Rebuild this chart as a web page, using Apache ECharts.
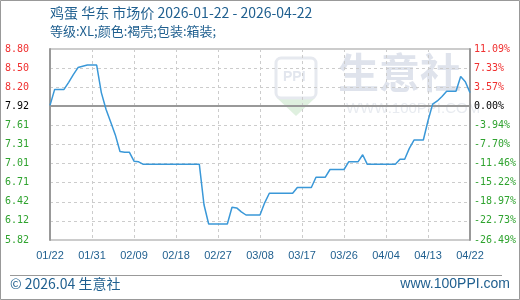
<!DOCTYPE html>
<html><head><meta charset="utf-8">
<script src="https://cdn.jsdelivr.net/npm/echarts@6/dist/echarts.min.js"></script>
<style>html,body{margin:0;padding:0;background:#fff}#c{width:520px;height:300px}</style>
</head><body><div id="c"></div>
<script>
var startDate = '2026-01-22';
var dayCount = 91;
var prices = [
 7.92, 8.17, 8.17, 8.17, 8.28, 8.40, 8.51, 8.53, 8.55, 8.55,
 8.55, 8.12, 7.86, 7.66, 7.46, 7.20, 7.19, 7.19, 7.05, 7.04,
 7.00, 7.00, 7.00, 7.00, 7.00, 7.00, 7.00, 7.00, 7.00, 7.00,
 7.00, 7.00, 7.00, 6.37, 6.07, 6.07, 6.07, 6.07, 6.07, 6.33,
 6.32, 6.26, 6.21, 6.21, 6.21, 6.21, 6.40, 6.55, 6.55, 6.55,
 6.55, 6.55, 6.55, 6.64, 6.64, 6.64, 6.64, 6.80, 6.80, 6.80,
 6.92, 6.92, 6.92, 6.92, 7.04, 7.04, 7.04, 7.15, 7.00, 7.00,
 7.00, 7.00, 7.00, 7.00, 7.00, 7.08, 7.08, 7.25, 7.38, 7.38,
 7.38, 7.68, 7.94, 7.99, 8.06, 8.14, 8.14, 8.14, 8.37, 8.29,
 8.12
];
var basePrice = 7.92;
var leftLabels = ['5.82','6.12','6.42','6.71','7.01','7.31','7.61','7.92','8.20','8.50','8.80'];
var rightLabels = ['-26.49%','-22.73%','-18.97%','-15.22%','-11.46%','-7.70%','-3.94%','0.00%','3.57%','7.33%','11.09%'];
var leftMin = 5.82, leftMax = 8.80, leftStep = 0.298;
var rightMin = -26.49, rightMax = 11.09, rightStep = 3.758;
var titleText = '鸡蛋 华东 市场价 2026-01-22 - 2026-04-22';
var subText = '等级:XL;颜色:褐壳;包装:箱装;';

var dates = [];
(function(){
  var d0 = new Date(startDate + 'T00:00:00Z');
  for (var i = 0; i < dayCount; i++) {
    var d = new Date(d0.getTime() + i * 86400000);
    var m = d.getUTCMonth() + 1, dd = d.getUTCDate();
    dates.push((m < 10 ? '0' : '') + m + '/' + (dd < 10 ? '0' : '') + dd);
  }
})();

var RED = '#f03030', GREEN = '#2fa32f', BLACK = '#000';
var mono = 'DejaVu Sans Mono';
var blueText = '#1f5f8f';

function idxColor(i) { return i > 7 ? RED : (i === 7 ? BLACK : GREEN); }

var chart = echarts.init(document.getElementById('c'), null, {renderer: 'canvas'});
chart.setOption({
  animation: false,
  backgroundColor: '#fff',
  grid: {left: 50, right: 50, top: 49, bottom: 60, show: true, borderColor: '#999', borderWidth: 1},
  xAxis: {
    type: 'category', data: dates, boundaryGap: false,
    axisLine: {lineStyle: {color: '#999'}},
    axisTick: {show: false},
    axisLabel: {interval: 8, color: blueText, fontSize: 11, margin: 10, fontFamily: 'Liberation Sans'},
    splitLine: {show: true, interval: 8, lineStyle: {color: '#ccc', type: [3, 3]}}
  },
  yAxis: [{
    type: 'value', min: leftMin, max: leftMax, interval: leftStep,
    axisLine: {show: true, lineStyle: {color: '#999', width: 2}},
    axisTick: {show: false},
    splitLine: {lineStyle: {color: '#ccc', type: [3, 3]}},
    axisLabel: {
      align: 'left', margin: 45, fontFamily: mono, fontSize: 10,
      formatter: function (v, i) { return leftLabels[i]; },
      color: function (v, i) { return idxColor(i); }
    }
  }, {
    type: 'value', min: rightMin, max: rightMax, interval: rightStep,
    position: 'right',
    axisLine: {show: true, lineStyle: {color: '#999', width: 2}},
    axisTick: {show: false},
    splitLine: {show: false},
    axisLabel: {
      margin: 4, fontFamily: mono, fontSize: 10,
      formatter: function (v, i) { return rightLabels[i]; },
      color: function (v, i) { return idxColor(i); }
    }
  }],
  series: [{
    type: 'line', data: prices, yAxisIndex: 0, symbol: 'none', smooth: false,
    lineStyle: {color: '#3a98d8', width: 1.5},
    markLine: {
      silent: true, symbol: 'none', label: {show: false},
      lineStyle: {color: '#999', width: 2, type: 'solid'},
      data: [{yAxis: basePrice}]
    },
    z: 5
  }],
  graphic: [
    {type: 'rect', shape: {x: 0.5, y: 0.5, width: 519, height: 299}, style: {fill: 'none', stroke: '#999', lineWidth: 1}, z: 100},
    {type: 'text', left: 50, top: 6, style: {text: titleText, fill: blueText, font: '14px "Noto Sans CJK SC", "Liberation Sans"'}},
    {type: 'text', left: 50, top: 25, style: {text: subText, fill: blueText, font: '13px "Noto Sans CJK SC", "Liberation Sans"'}},
    {type: 'line', shape: {x1: 10, y1: 275.5, x2: 502, y2: 275.5}, style: {stroke: '#999', lineWidth: 1}},
    {type: 'text', left: 10, top: 277, style: {text: '© 2026.04 生意社', fill: blueText, font: '14px "Noto Sans CJK SC", "Liberation Sans"'}},
    {type: 'text', right: 10, top: 277, style: {text: 'www.100PPI.com', fill: blueText, font: '14px "Liberation Sans"'}},
    {type: 'group', z: 1, children: [
      {type: 'polygon', shape: {points: [[277, 98], [315, 98], [296, 116]]}, style: {fill: '#dff0df'}},
      {type: 'rect', shape: {x: 276, y: 58, width: 40, height: 40, r: 5}, style: {fill: 'none', stroke: '#e6e9ef', lineWidth: 3}},
      {type: 'text', left: 283, top: 70, style: {text: 'PPI', fill: '#e2e6ee', font: 'bold 14px "Liberation Sans"'}},
      {type: 'text', left: 338, top: 52, style: {text: '生意社', fill: '#dfe3ec', font: 'bold 41px "Noto Sans CJK SC"'}},
      {type: 'text', left: 346, top: 101, style: {text: 'WWW.100PPI.COM', fill: '#e8ebf0', font: '15px "Liberation Sans"'}}
    ]}
  ]
});
</script>
</body></html>
